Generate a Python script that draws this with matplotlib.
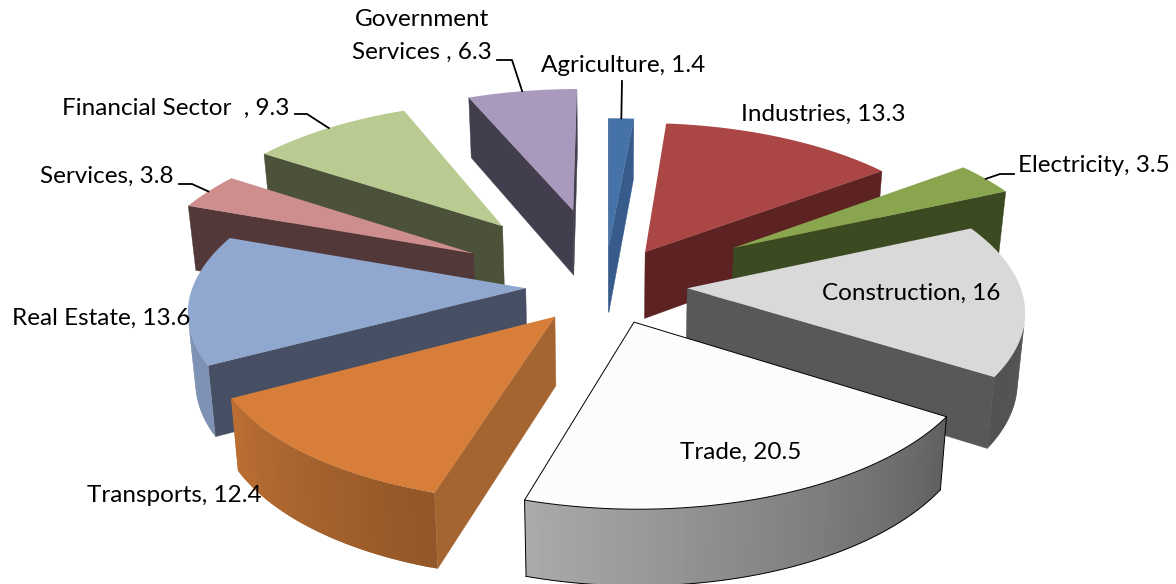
import numpy as np
from matplotlib import pyplot as plt
from matplotlib.colors import to_rgb

sectors = ["Agriculture", "Industries", "Electricity", "Construction", "Trade",
           "Transports", "Real Estate", "Services", "Financial Sector", "Government Services"]
shares = [1.4, 13.3, 3.5, 16, 20.5, 12.4, 13.6, 3.8, 9.3, 6.3]
labels = ["Agriculture, 1.4", "Industries, 13.3", "Electricity, 3.5", "Construction, 16",
          "Trade, 20.5", "Transports, 12.4", "Real Estate, 13.6", "Services, 3.8",
          "Financial Sector  , 9.3", "Government\nServices , 6.3"]

# how far each slice is pulled out, in pie radii, and how many degrees
# the pull is turned away from the middle of the slice
explode = [0.30, 0.283, 0.485, 0.238, 0.22, 0.232, 0.247, 0.484, 0.555, 0.57]
explode_turn = [-2, -5, -5.6, -7, 0, 3, 7, 3.8, 2.4, 0]
top_colors = ["#4573A7", "#AA4643", "#89A54E", "#D9D9D9", "#FCFCFC",
              "#D77F3A", "#90A8CF", "#CE8E8E", "#B9CB91", "#A99ABD"]
wall_colors = ["#375C8C", "#5C2322", "#3B4A20", "#585858", "#606060",
               "#A56530", "#464F63", "#53383A", "#4C5239", "#433E4D"]

# label centres in pixels
label_xy = [(623, 65), (823, 114), (1094, 166), (911, 293), (741, 452),
            (174, 495), (101, 318), (107, 176), (176, 108), (422, 36)]
# leader line elbows in pixels, the last point is taken from the slice rim
leaders = {0: [(622, 81)],
           2: [(1014, 174), (1000, 174)],
           7: [(179, 184), (192, 184)],
           8: [(295, 114), (307, 114)],
           9: [(497, 60), (512, 60)]}

CX, CY = 608, 290
RX, RY = 334, 151
PERSP_X = 0.13
PERSP_FRONT, PERSP_BACK = 0.14, 0.11
DEPTH = 68

# brightness of the rim as it goes round the pie
rim_angle = [0, 90, 123, 197, 241, 290, 360]
rim_shade = [0.40, 0.40, 0.38, 0.68, 0.87, 0.88, 0.80]


def project(u, v, bottom=False):
    s = 1 / (1 + PERSP_X * v)
    sy = 1 / (1 + (PERSP_BACK if v > 0 else PERSP_FRONT) * v)
    x = CX + RX * u * s
    y = CY - RY * v * sy
    if bottom:
        x = CX + (x - CX) * 0.982
        y = y + DEPTH * s ** 0.7
    return x, y


def area(pts):
    xs = np.array([p[0] for p in pts])
    ys = np.array([p[1] for p in pts])
    return np.sum(xs * np.roll(ys, -1) - np.roll(xs, -1) * ys)


def slice_offset(i, a0, a1):
    turn = np.radians((a0 + a1) / 2 + explode_turn[i])
    return explode[i] * np.sin(turn), explode[i] * np.cos(turn)


def draw_slice(ax, i, a0, a1):
    ou, ov = slice_offset(i, a0, a1)
    is_trade = sectors[i] == "Trade"

    thetas = np.linspace(a0, a1, max(int(a1 - a0), 4))
    us = ou + np.sin(np.radians(thetas))
    vs = ov + np.cos(np.radians(thetas))
    top_rim = [project(u, v) for u, v in zip(us, vs)]
    bot_rim = [project(u, v, True) for u, v in zip(us, vs)]
    apex_t = project(ou, ov)
    apex_b = project(ou, ov, True)

    # radial walls, only the ones turned towards the viewer
    start = [apex_t, top_rim[0], bot_rim[0], apex_b]
    if area(start) < 0:
        ax.fill(*zip(*start), color=wall_colors[i], lw=0.3)
    end = [apex_t, top_rim[-1], bot_rim[-1], apex_b]
    if area(end) > 0:
        ax.fill(*zip(*end), color=wall_colors[i], lw=0.3)

    # curved rim as strips so the shading can change along it, each strip
    # runs under the next one to keep the seams from showing
    base = np.array(to_rgb(top_colors[i]))
    last = len(thetas) - 1
    for k in range(last):
        quad = [top_rim[k], top_rim[k + 1], bot_rim[k + 1], bot_rim[k]]
        if area(quad) < 0:
            k2 = min(k + 2, last)
            strip = [top_rim[k], top_rim[k + 1], top_rim[k2], bot_rim[k2], bot_rim[k + 1], bot_rim[k]]
            shade = np.interp((thetas[k] + thetas[k + 1]) / 2, rim_angle, rim_shade)
            ax.fill(*zip(*strip), facecolor=tuple(base * shade), edgecolor="none", lw=0)
    if is_trade:
        ax.plot(*zip(*bot_rim), color="black", lw=0.7)
        ax.plot(*zip(top_rim[-1], bot_rim[-1]), color="black", lw=0.7)
        ax.plot(*zip(top_rim[0], bot_rim[0]), color="black", lw=0.7)

    ax.fill(*zip(*([apex_t] + top_rim)), facecolor=top_colors[i],
            edgecolor="black" if is_trade else "none", lw=0.7 if is_trade else 0)


fig = plt.figure(figsize=(11.76, 5.84), dpi=100)
ax = fig.add_axes([0, 0, 1, 1])
ax.set_xlim(0, 1176)
ax.set_ylim(584, 0)
ax.axis("off")

plt.rcParams["font.family"] = ["Lato", "DejaVu Sans"]

edges = np.concatenate([[0], np.cumsum(shares)]) / np.sum(shares) * 360
mids = np.radians((edges[:-1] + edges[1:]) / 2)
# paint from the back of the pie to the front
depth_key = (np.array(explode) + 0.6) * np.cos(mids)
for i in np.argsort(-depth_key):
    draw_slice(ax, i, edges[i], edges[i + 1])

for i, elbow in leaders.items():
    ou, ov = slice_offset(i, edges[i], edges[i + 1])
    rim = project(ou + np.sin(mids[i]), ov + np.cos(mids[i]))
    ax.plot(*zip(*(elbow + [rim])), color="black", lw=1.3, solid_joinstyle="round")

for text, (x, y) in zip(labels, label_xy):
    ax.text(x, y, text, ha="center", va="center", fontsize=17.5,
            color="black", linespacing=1.7)

fig.savefig("out.png", dpi=100)
